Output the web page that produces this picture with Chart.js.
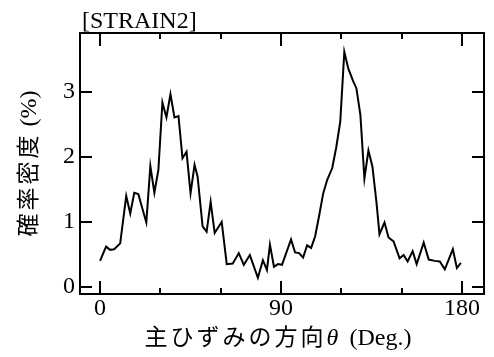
<!DOCTYPE html>
<html>
<head>
<meta charset="utf-8">
<script src="https://cdn.jsdelivr.net/npm/chart.js@4.4.1/dist/chart.umd.min.js"></script>
<style>
  html, body { margin: 0; padding: 0; background: #fff; }
</style>
</head>
<body>
<canvas id="c" width="494" height="357"></canvas>
<script>
// Probability density of the principal strain direction, STRAIN2.
const ANGLES = [0, 2, 3, 5, 7, 10, 13, 15, 17, 19, 23, 25, 27, 29, 31, 33, 35, 37, 39, 41, 43, 45, 47, 48.5,
  51, 53, 55, 57, 60.5, 63, 66, 69, 71.5, 74.5, 78.5, 81, 83, 84.5, 86.5, 88.5, 90.5, 95, 97, 99, 101, 103,
  105, 107, 109, 111, 113, 115.5, 117.5, 119.5, 121.5, 123.5, 126, 127.5, 129.5, 131.5, 133.5, 135.5, 137.5,
  139, 141.5, 143.5, 146, 149, 151, 153, 155.5, 157.5, 161, 163.5, 166.5, 169, 171.5, 175.5, 177.5, 179.5];
const DENSITY = [0.40, 0.55, 0.62, 0.57, 0.58, 0.67, 1.40, 1.13, 1.45, 1.43, 0.99, 1.86, 1.45, 1.80, 2.84, 2.61, 2.97, 2.61, 2.63, 1.98, 2.08, 1.44, 1.88, 1.70,
  0.93, 0.85, 1.31, 0.83, 1.00, 0.35, 0.36, 0.52, 0.34, 0.49, 0.14, 0.41, 0.26, 0.65, 0.31, 0.35, 0.34, 0.73, 0.53, 0.52, 0.45, 0.64,
  0.60, 0.78, 1.10, 1.44, 1.65, 1.83, 2.15, 2.55, 3.62, 3.36, 3.16, 3.06, 2.65, 1.67, 2.10, 1.85, 1.30,
  0.81, 0.99, 0.76, 0.70, 0.44, 0.49, 0.39, 0.55, 0.35, 0.68, 0.42, 0.40, 0.39, 0.27, 0.58, 0.29, 0.37];
const X_TICKS = [0, 30, 60, 90, 120, 150, 180];
const X_LABELED = [0, 90, 180];
const Y_TICKS = [0, 1, 2, 3];
const PANEL_LABEL = '[STRAIN2]';

const SERIF = "'Liberation Serif', serif";
const CJK = "23px 'Noto Sans CJK JP', sans-serif";
// axis titles are mixed runs: Japanese, then Latin / Greek in serif
const X_TITLE = [
  { text: '主ひずみの方向', font: CJK, spacing: 3 },
  { text: 'θ', font: "italic 24px 'Liberation Serif', serif", spacing: 5 },
  { text: ' (Deg.)', font: "24px 'Liberation Serif', serif", spacing: 0 },
];
const Y_TITLE = [
  { text: '確率密度', font: CJK, spacing: 3 },
  { text: ' (%)', font: "24px 'Liberation Serif', serif", spacing: 0 },
];

function drawRuns(ctx, runs, cx, baseline) {
  const widths = runs.map((r) => {
    ctx.font = r.font;
    ctx.letterSpacing = r.spacing + 'px';
    return ctx.measureText(r.text).width;
  });
  let x = cx - widths.reduce((s, w) => s + w, 0) / 2;
  runs.forEach((r, i) => {
    ctx.font = r.font;
    ctx.letterSpacing = r.spacing + 'px';
    ctx.fillText(r.text, x, baseline);
    x += widths[i];
  });
  ctx.letterSpacing = '0px';
}

// frame, inward ticks on all four sides, panel label and axis titles
const frame = {
  id: 'frame',
  afterDraw(chart) {
    const { ctx, chartArea: a, scales: { x, y } } = chart;
    ctx.save();
    ctx.strokeStyle = '#000';
    ctx.lineWidth = 2;
    ctx.strokeRect(a.left, a.top, a.right - a.left, a.bottom - a.top);
    ctx.beginPath();
    X_TICKS.forEach((v) => {
      const px = Math.round(x.getPixelForValue(v));
      const len = X_LABELED.includes(v) ? 13 : 6;
      ctx.moveTo(px, a.bottom); ctx.lineTo(px, a.bottom - len);
      ctx.moveTo(px, a.top); ctx.lineTo(px, a.top + len);
    });
    Y_TICKS.forEach((v) => {
      const py = Math.round(y.getPixelForValue(v));
      ctx.moveTo(a.left, py); ctx.lineTo(a.left + 12, py);
      ctx.moveTo(a.right, py); ctx.lineTo(a.right - 12, py);
    });
    ctx.stroke();

    ctx.fillStyle = '#000';
    ctx.textBaseline = 'alphabetic';
    ctx.textAlign = 'left';
    ctx.font = "24px 'Liberation Serif', serif";
    ctx.fillText(PANEL_LABEL, a.left + 2, a.top - 5);

    drawRuns(ctx, X_TITLE, (a.left + a.right) / 2 - 4, 345);

    ctx.translate(35.5, (a.top + a.bottom) / 2);
    ctx.rotate(-Math.PI / 2);
    drawRuns(ctx, Y_TITLE, 0, 0);
    ctx.restore();
  },
};

new Chart(document.getElementById('c'), {
  type: 'line',
  data: {
    datasets: [{
      data: ANGLES.map((a, i) => ({ x: a, y: DENSITY[i] })),
      borderColor: '#000', borderWidth: 2, pointRadius: 0, tension: 0,
    }],
  },
  options: {
    responsive: false, animation: false,
    layout: { padding: { top: 33, right: 10, left: 0, bottom: 0 } },
    plugins: { legend: { display: false }, tooltip: { enabled: false } },
    scales: {
      x: {
        type: 'linear', min: -10, max: 191,
        afterBuildTicks: (s) => { s.ticks = X_TICKS.map((v) => ({ value: v })); },
        afterFit: (s) => { s.height = 63; },
        grid: { display: false, drawTicks: false }, border: { display: false },
        ticks: { padding: 0, color: '#000', font: { family: SERIF, size: 24 },
          callback: (v) => (X_LABELED.includes(v) ? String(v) : '') },
      },
      y: {
        min: -0.11, max: 3.91,
        afterBuildTicks: (s) => { s.ticks = Y_TICKS.map((v) => ({ value: v })); },
        afterFit: (s) => { s.width = 80; },
        grid: { display: false, drawTicks: false }, border: { display: false },
        ticks: { padding: 5, color: '#000', font: { family: SERIF, size: 24 } },
      },
    },
  },
  plugins: [frame],
});
</script>
</body>
</html>
